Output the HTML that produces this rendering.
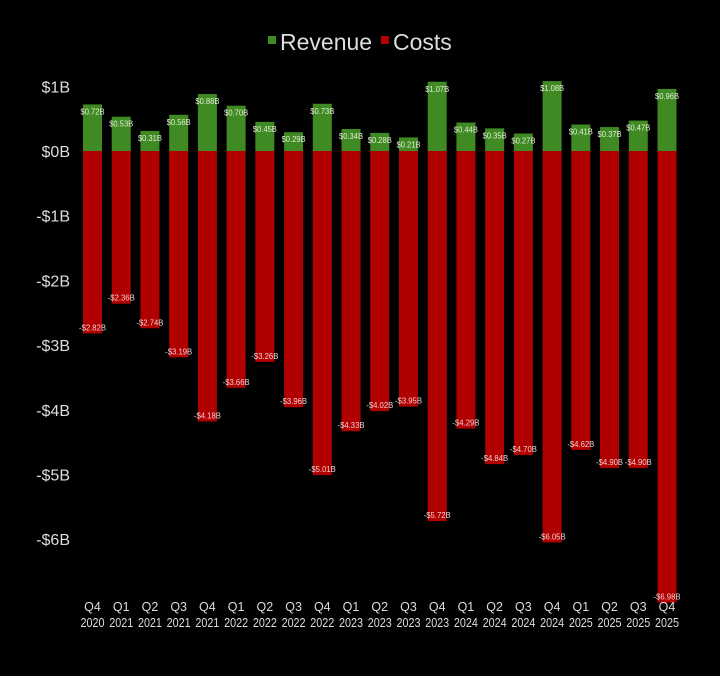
<!DOCTYPE html>
<html><head><meta charset="utf-8"><style>
body{margin:0;background:#000;width:720px;height:671px;overflow:hidden;font-family:"Liberation Sans",sans-serif}
</style></head><body>
<svg id="chart" width="720" height="671" xmlns="http://www.w3.org/2000/svg">
<g>
<rect x="268" y="36" width="8" height="8" fill="#3f8a22"/>
<text x="280" y="50" fill="#ddd" font-size="23">Revenue</text>
<rect x="381" y="36" width="8" height="8" fill="#b00000"/>
<text x="393" y="50" fill="#ddd" font-size="23">Costs</text>
</g>
<g id="yaxis"></g>
<g id="bars"></g>
<g id="xaxis"></g>
</svg>
<script>
const categories=["Q4 2020","Q1 2021","Q2 2021","Q3 2021","Q4 2021","Q1 2022","Q2 2022","Q3 2022","Q4 2022","Q1 2023","Q2 2023","Q3 2023","Q4 2023","Q1 2024","Q2 2024","Q3 2024","Q4 2024","Q1 2025","Q2 2025","Q3 2025","Q4 2025"];
const revenue=[0.72,0.53,0.31,0.56,0.88,0.70,0.45,0.29,0.73,0.34,0.28,0.21,1.07,0.44,0.35,0.27,1.08,0.41,0.37,0.47,0.96];
const costs=[-2.82,-2.36,-2.74,-3.19,-4.18,-3.66,-3.26,-3.96,-5.01,-4.33,-4.02,-3.95,-5.72,-4.29,-4.84,-4.70,-6.05,-4.62,-4.90,-4.90,-6.98];
const yTicks=[1,0,-1,-2,-3,-4,-5,-6];
const NS="http://www.w3.org/2000/svg";
const y0=151,pxPer=64.7;
function y(v){return y0-v*pxPer;}
const n=categories.length,x0=92.5,step=(667-92.5)/(n-1),bw=19;
function x(i){return x0+i*step;}
function mk(tag,attrs,parent,txt){const e=document.createElementNS(NS,tag);for(const k in attrs)e.setAttribute(k,attrs[k]);if(txt!==undefined)e.textContent=txt;parent.appendChild(e);return e;}
function fmt(v){return (v<0?"-$":"$")+Math.abs(v).toFixed(2)+"B";}
const ya=document.getElementById('yaxis'),bars=document.getElementById('bars'),xa=document.getElementById('xaxis');
yTicks.forEach(t=>{
  const e=mk('text',{x:70,y:y(t)+6,'text-anchor':'end',fill:'#ddd','font-size':16},ya,(t<0?"-$":"$")+Math.abs(t)+"B");
  
  
});
categories.forEach((c,i)=>{
  const cx=x(i);
  const r=mk('rect',{x:cx-bw/2,y:y(revenue[i]),width:bw,height:y(0)-y(revenue[i]),fill:'#3f8a22'},bars);
  
  
  const k=mk('rect',{x:cx-bw/2,y:y(0),width:bw,height:y(costs[i])-y(0),fill:'#b00000'},bars);
  
  
  const rl=mk('text',{x:cx,y:y(revenue[i])+10,'text-anchor':'middle',fill:'#e4f0d8','font-size':8.5,textLength:24,lengthAdjust:'spacingAndGlyphs'},bars,fmt(revenue[i]));
  
  
  const cl=mk('text',{x:cx,y:y(costs[i])-3,'text-anchor':'middle',fill:'#f4d0d0','font-size':8.5,textLength:27,lengthAdjust:'spacingAndGlyphs'},bars,fmt(costs[i]));
  
  
  const p=c.split(' ');
  const t1=mk('text',{x:cx,y:611,'text-anchor':'middle',fill:'#ddd','font-size':12.5},xa,p[0]);
  
  
  const t2=mk('text',{x:cx,y:627,'text-anchor':'middle',fill:'#ddd','font-size':12.5,textLength:24,lengthAdjust:'spacingAndGlyphs'},xa,p[1]);
  
  
});
</script>
</body></html>
